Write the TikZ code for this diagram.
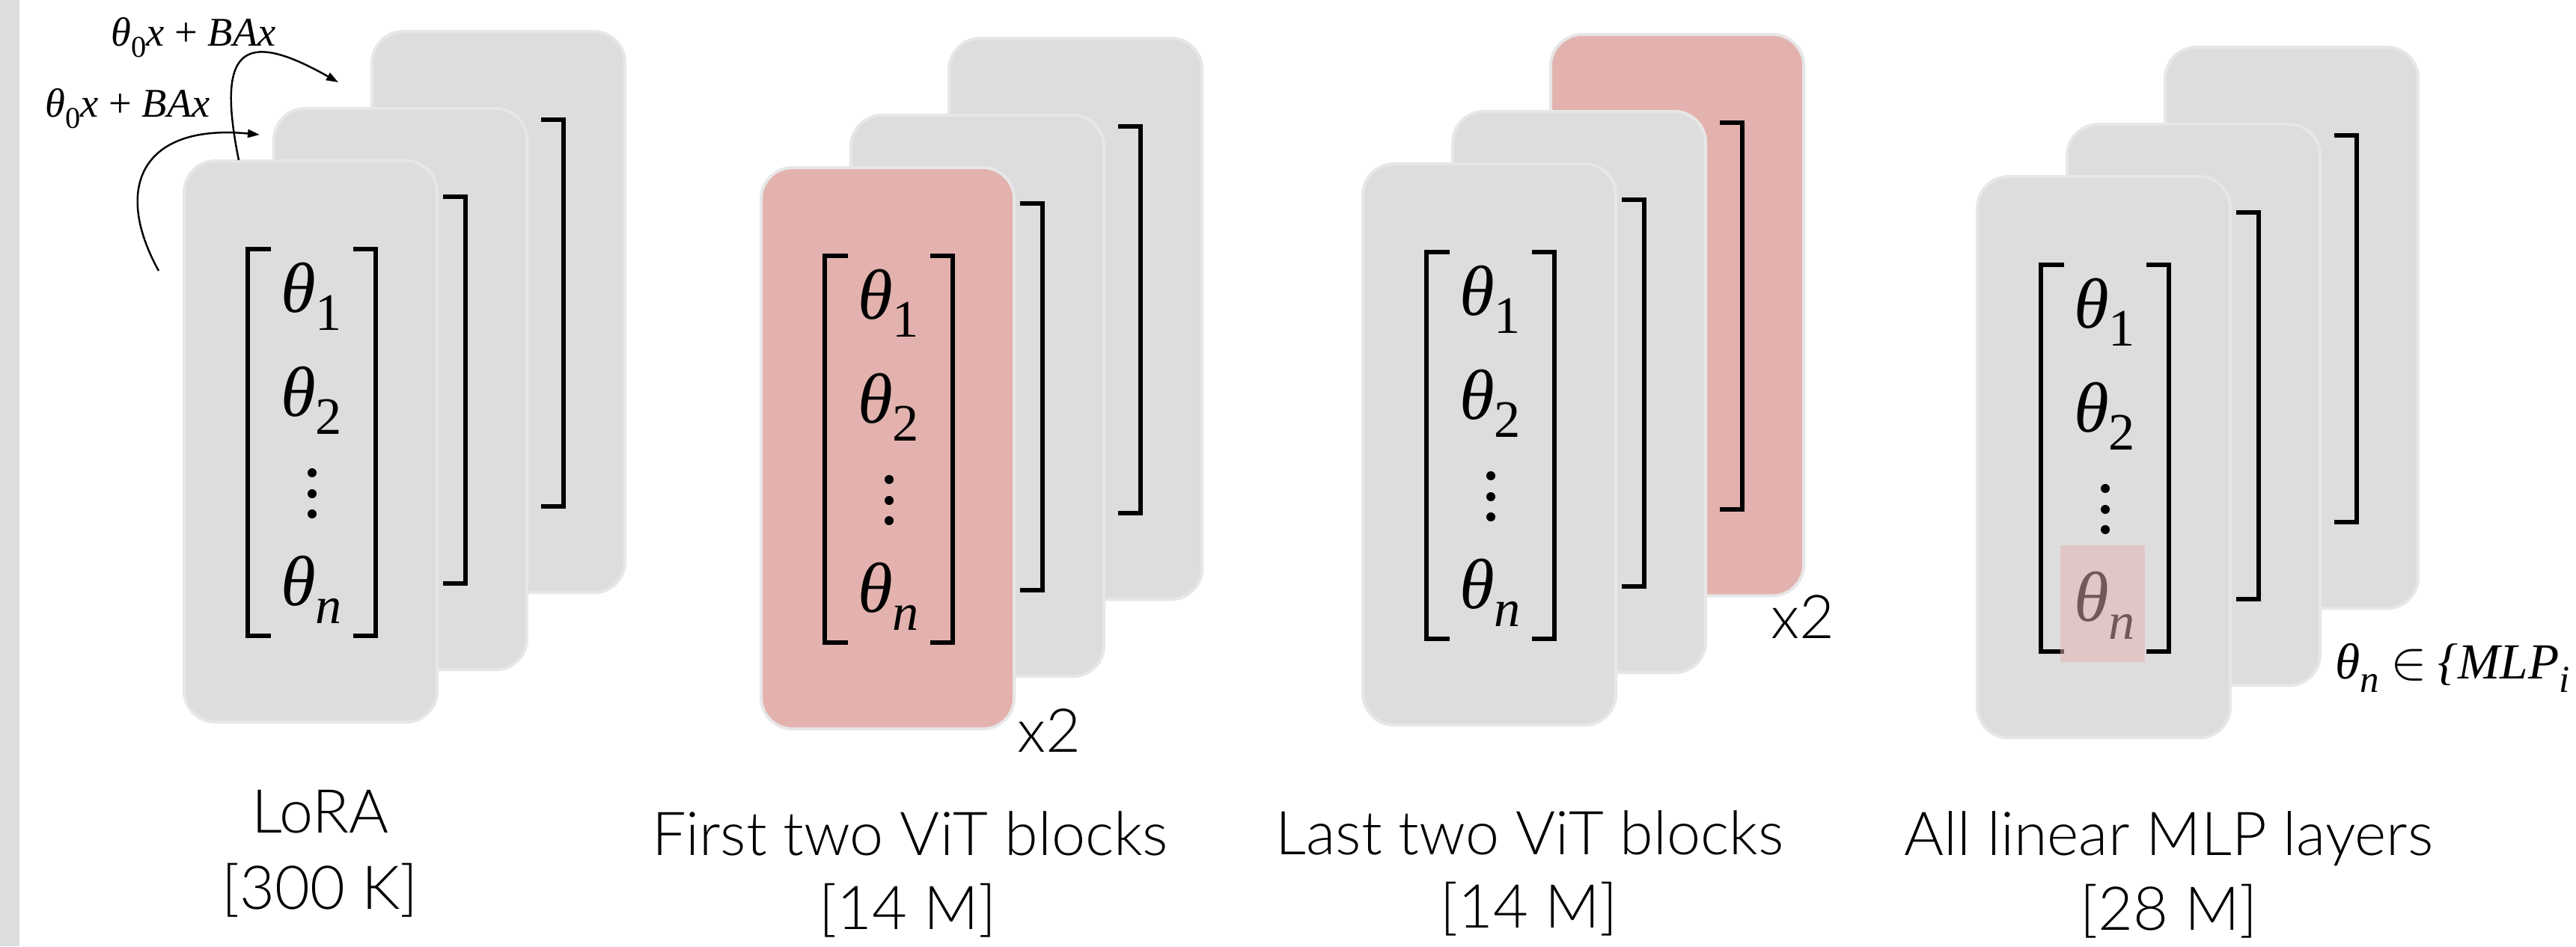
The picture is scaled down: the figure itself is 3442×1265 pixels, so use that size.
\documentclass[tikz,border=0pt]{standalone}
\usepackage{fontspec}
\usetikzlibrary{arrows.meta}
\newfontfamily\tms{Liberation Serif}
\IfFontExistsTF{Lato Light}{\newfontfamily\lbl{Lato Light}}{\newfontfamily\lbl{Lato}}
\definecolor{cardgray}{RGB}{221,221,221}
\definecolor{cardrim}{RGB}{231,231,231}
\definecolor{pinkfill}{RGB}{227,178,174}
% subscript used inside the parameter vectors
\newcommand\sbx[1]{\raisebox{-0.26em}{\fontsize{20}{20}\selectfont\upshape #1}}
% a stack of three parameter cards: id, x, y (front card corner), back/middle/front fill
\newcommand\cardstack[6]{%
  \begin{scope}[shift={(#2+251,#3-173)}]
    \node[card, fill=#4] (#1b) at (0,0) {};
    \draw[brk] (226,118) -- (256,118) -- (256,635) -- (226,635);
  \end{scope}
  \begin{scope}[shift={(#2+120,#3-70)}]
    \node[card, fill=#5] (#1m) at (0,0) {};
    \draw[brk] (226,118) -- (256,118) -- (256,635) -- (226,635);
  \end{scope}
  \begin{scope}[shift={(#2,#3)}]
    \node[card, fill=#6] (#1f) at (0,0) {};
    \draw[brk] (226,118) -- (256,118) -- (256,635) -- (226,635);
    \draw[brk] (116,118) -- (85,118) -- (85,635) -- (116,635);
    \node[ent] (#1e1) at (170,202) {θ\sbx{1}};
    \node[ent] (#1e2) at (170,341) {θ\sbx{2}};
    \node[ent] (#1en) at (170,594) {θ\sbx{\itshape n}};
    \foreach \dy in {417,445,472} \fill (171,\dy) circle (0.06cm);
  \end{scope}}
\begin{document}
\begin{tikzpicture}[x=0.01cm, y=-0.01cm,
  card/.style={rectangle, draw=cardrim, line width=0.04cm, rounded corners=0.42cm,
    minimum width=3.38cm, minimum height=7.50cm, anchor=north west,
    inner sep=0pt, outer sep=0pt},
  brk/.style={line width=0.055cm, line cap=butt, line join=miter},
  ent/.style={font=\tms\fontsize{27}{29}\selectfont\itshape, inner sep=0pt, anchor=base},
  lab/.style={font=\lbl\fontsize{23}{25}\selectfont, inner sep=0pt, anchor=base},
  expr/.style={font=\tms\fontsize{15.5}{17}\selectfont, inner sep=0pt, anchor=base west},
  conn/.style={line width=0.7pt, -{Triangle[length=0.16cm,width=0.11cm]}},
]
\useasboundingbox (0,0) rectangle (3442,1265);
\fill[white] (0,0) rectangle (3442,1265);
\fill[cardgray] (0,0) rectangle (26,1265);

% four stacks of cards
\cardstack{lora}{246}{215}{cardgray}{cardgray}{cardgray}
\cardstack{first}{1017}{224}{cardgray}{cardgray}{pinkfill}
\cardstack{last}{1821}{219}{pinkfill}{cardgray}{cardgray}
\cardstack{mlp}{2642}{236}{cardgray}{cardgray}{cardgray}

% highlighted last entry of the MLP stack
\fill[pinkfill, opacity=0.5] (2753,729) rectangle (2866,885);

% LoRA update expressions and their arrows
\node[expr] (ex1) at (148,61) {\itshape θ\raisebox{-0.28em}{\fontsize{11.5}{11.5}\selectfont\upshape 0}x \upshape+ \itshape BAx};
\node[expr] (ex2) at (60,156) {\itshape θ\raisebox{-0.28em}{\fontsize{11.5}{11.5}\selectfont\upshape 0}x \upshape+ \itshape BAx};
\coordinate (u1) at (319,214);
\coordinate (v1) at (452,110);
\coordinate (u2) at (212,362);
\coordinate (v2) at (347,180);
\draw[conn] (u1) .. controls (290,70) and (320,35) .. (v1);
\draw[conn] (u2) .. controls (150,250) and (190,165) .. (v2);

% repetition marks
\node[lab] (rep1) at (1402,1005) {x2};
\node[lab] (rep2) at (2409,853) {x2};

% membership note
\node[font=\tms\fontsize{19.2}{20}\selectfont, inner sep=0pt, anchor=base west] (memb) at (3120,907)
  {\itshape θ\raisebox{-0.28em}{\fontsize{14.5}{14.5}\selectfont n}\hspace{0.22em}$\in$\hspace{0.22em}\{MLP\raisebox{-0.28em}{\fontsize{14.5}{14.5}\selectfont i}};

% captions
\node[lab] (c1a) at (428,1113) {LoRA};
\node[lab] (c1b) at (428,1215) {[300 K]};
\node[lab] (c2a) at (1216,1143) {First two ViT blocks};
\node[lab] (c2b) at (1213,1242) {[14 M]};
\node[lab] (c3a) at (2044,1142) {Last two ViT blocks};
\node[lab] (c3b) at (2043,1240) {[14 M]};
\node[lab] (c4a) at (2898,1143) {All linear MLP layers};
\node[lab] (c4b) at (2898,1243) {[28 M]};
\end{tikzpicture}
\end{document}
